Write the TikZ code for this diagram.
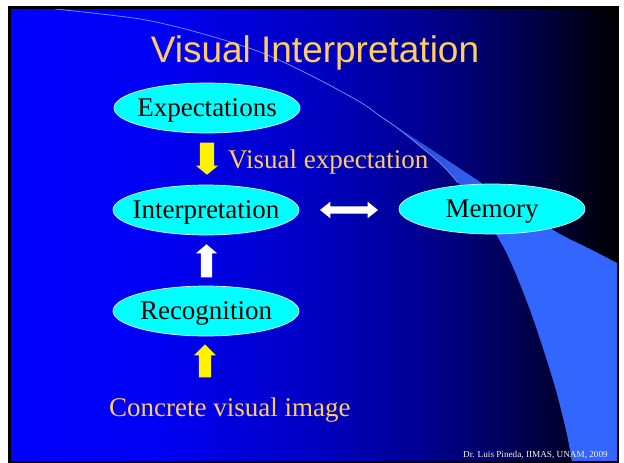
\documentclass[tikz,border=0pt]{standalone}
\usepackage{fontspec}
\setmainfont{Liberation Serif}
\newfontfamily\titlefont{Liberation Sans}
\usetikzlibrary{shapes.geometric,shapes.arrows}
\definecolor{titleor}{RGB}{255,204,102}
\definecolor{lineblue}{RGB}{100,140,255}
\definecolor{ellcyan}{RGB}{0,255,255}
\pgfdeclarehorizontalshading{slidebg}{100bp}{rgb(0bp)=(0,0,1); rgb(25bp)=(0,0,1); rgb(37.5bp)=(0,0,0.95); rgb(50bp)=(0,0,0.76); rgb(58.5bp)=(0,0,0.58); rgb(65bp)=(0,0,0.38); rgb(70bp)=(0,0,0.2); rgb(75bp)=(0,0,0); rgb(100bp)=(0,0,0)}
\pgfdeclarehorizontalshading{bandbg}{100bp}{rgb(0bp)=(0.16,0.24,0.72); rgb(25bp)=(0.16,0.24,0.72); rgb(40bp)=(0.19,0.35,0.9); rgb(48bp)=(0.2,0.4,1); rgb(100bp)=(0.2,0.4,1)}
\newcommand{\ztext}[1]{\makebox[0pt][c]{#1}}
\tikzset{
  ell/.style={ellipse, fill=ellcyan, draw=white!85!cyan, line width=0.7pt, minimum width=186pt, minimum height=50pt, inner sep=0pt, text height=16pt, text depth=0pt, font=\fontsize{27}{32}\selectfont},
  yarr/.style={single arrow, fill=yellow, draw=none, inner xsep=0pt, anchor=tip},
  warr/.style={single arrow, fill=white, draw=none, inner xsep=0pt, anchor=tip},
  orlabel/.style={text=titleor, font=\fontsize{27}{32}\selectfont, inner sep=0pt, anchor=base west}
}
\begin{document}
\begin{tikzpicture}[x=1pt,y=-1pt]
\useasboundingbox (0,0) rectangle (624,463);
\fill[white] (0,0) rectangle (624,463);
\fill[black] (8,6) rectangle (619,463);
\shade[shading=slidebg] (11,9) rectangle (617,460);
\begin{scope}
  \clip (11,9) rectangle (617,460);
  \shade[shading=bandbg] plot[smooth] coordinates {(380,116) (400,130) (440,163) (475,203) (505,250) (530,310) (553,380) (566,430) (572,462)} -- (620,462) -- (620,264) -- plot[smooth] coordinates {(617,263) (590,249) (560,234) (520,209) (483,184) (450,162) (420,142) (395,126) (380,116)} -- cycle;
  \draw[lineblue, line width=0.8pt] plot[smooth] coordinates {(55,9) (140,19) (200,33) (260,52) (310,75) (360,102) (380,116) (400,130) (440,163) (458,183)};
\end{scope}
% title
\node[text=titleor, font=\titlefont\fontsize{37}{44}\selectfont, inner sep=0pt, anchor=base] (title) at (315,62) {Visual Interpretation};
% ellipses
\node[ell] (exp) at (207,108) {\ztext{Expectations}};
\node[ell] (interp) at (206,210) {\ztext{Interpretation}};
\node[ell] (mem) at (492,209) {\ztext{Memory}};
\node[ell] (rec) at (206,311) {\ztext{Recognition}};
% block arrows
\node[yarr, rotate=-90, minimum height=32pt, inner ysep=7pt, single arrow head extend=4pt, single arrow tip angle=101] (a1) at (207,175) {};
\node[warr, rotate=90, minimum height=33pt, inner ysep=5.5pt, single arrow head extend=5pt, single arrow tip angle=99] (a2) at (206.5,244) {};
\node[yarr, rotate=90, minimum height=33pt, inner ysep=6pt, single arrow head extend=5pt, single arrow tip angle=90] (a3) at (205,344) {};
\node[double arrow, fill=white, draw=none, inner xsep=0pt, inner ysep=3.5pt, minimum height=58pt, double arrow head extend=4.5pt, double arrow tip angle=77] (a4) at (349,210) {};
% labels
\node[orlabel] (vexp) at (228,168) {Visual expectation};
\node[orlabel] (cvi) at (109,416) {Concrete visual image};
\node[text=white!90!gray, font=\fontsize{9.2}{11}\selectfont, inner sep=0pt, anchor=base east] (foot) at (608,457) {Dr. Luis Pineda, IIMAS, UNAM, 2009};
\end{tikzpicture}
\end{document}
